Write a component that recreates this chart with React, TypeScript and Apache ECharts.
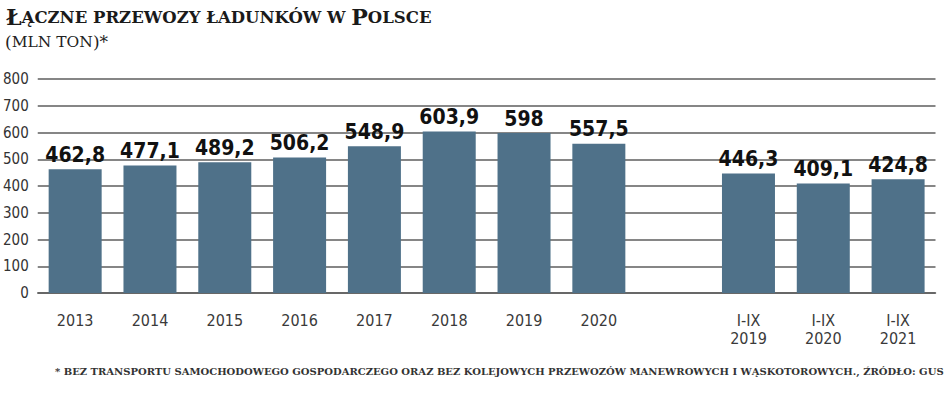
import React, { useEffect, useRef } from "react";
import * as echarts from "echarts";

const categories = ["2013", "2014", "2015", "2016", "2017", "2018", "2019", "2020", "", "I-IX\n2019", "I-IX\n2020", "I-IX\n2021"];
const values: (number | null)[] = [462.8, 477.1, 489.2, 506.2, 548.9, 603.9, 598, 557.5, null, 446.3, 409.1, 424.8];
const yTicks = { min: 0, max: 800, interval: 100 };

const titleBig1 = "Ł";
const titleSmall1 = "ĄCZNE PRZEWOZY ŁADUNKÓW W ";
const titleBig2 = "P";
const titleSmall2 = "OLSCE";
const subtitle = "MLN TON";
const footnote = "* BEZ TRANSPORTU SAMOCHODOWEGO GOSPODARCZEGO ORAZ BEZ KOLEJOWYCH PRZEWOZÓW MANEWROWYCH I WĄSKOTOROWYCH., ŹRÓDŁO: GUS";

const condensed = "'DejaVu Sans Condensed', 'DejaVu Sans', sans-serif";
const serif = "'DejaVu Serif', 'Liberation Serif', serif";

export default function App() {
  const ref = useRef<HTMLDivElement>(null);
  useEffect(() => {
    if (!ref.current) return;
    const chart = echarts.init(ref.current, null, { renderer: "svg" });
    chart.setOption({
      animation: false,
      backgroundColor: "#ffffff",
      title: [
        {
          left: 6,
          top: 7,
          padding: 0,
          text: `{b|${titleBig1}}{s|${titleSmall1}}{b|${titleBig2}}{s|${titleSmall2}}`,
          textStyle: {
            fontWeight: "bold",
            lineHeight: 20,
            rich: {
              b: { fontFamily: serif, fontWeight: "bold", fontSize: 22, lineHeight: 20, color: "#1a1a1a" },
              s: { fontFamily: serif, fontWeight: "bold", fontSize: 16.5, lineHeight: 20, color: "#1a1a1a" },
            },
          },
        },
        {
          left: 5,
          top: 34,
          padding: 0,
          text: `{p|(}{s|${subtitle}}{p|)*}`,
          textStyle: {
            fontWeight: "normal",
            lineHeight: 16,
            rich: {
              p: { fontFamily: serif, fontWeight: "normal", fontSize: 17, lineHeight: 16, color: "#222" },
              s: { fontFamily: serif, fontWeight: "normal", fontSize: 15.5, lineHeight: 16, color: "#222" },
            },
          },
        },
        {
          left: 55,
          top: 366,
          padding: 0,
          text: footnote,
          textStyle: { fontFamily: serif, fontWeight: "bold", fontSize: 10, color: "#333" },
        },
      ],
      grid: { left: 36, right: 12.5, top: 79, bottom: 101, containLabel: false },
      xAxis: {
        type: "category",
        data: categories,
        axisTick: { show: false },
        axisLine: { show: true, lineStyle: { color: "#5e5e5e", width: 1.5 } },
        axisLabel: {
          interval: 0,
          margin: 18,
          fontFamily: condensed,
          fontSize: 16,
          lineHeight: 18,
          color: "#3a3a3a",
        },
      },
      yAxis: {
        type: "value",
        min: yTicks.min,
        max: yTicks.max,
        interval: yTicks.interval,
        axisLine: { show: false },
        axisTick: { show: false },
        axisLabel: { margin: 9, fontFamily: condensed, fontSize: 15, color: "#333" },
        splitLine: { show: true, lineStyle: { color: "#5e5e5e", width: 1.5 } },
      },
      series: [
        {
          type: "bar",
          data: values,
          barWidth: 53,
          itemStyle: { color: "#4f7189" },
          label: {
            show: true,
            position: "top",
            distance: 4,
            fontFamily: condensed,
            fontWeight: "bold",
            fontSize: 21,
            color: "#111",
            formatter: (p: any) => String(p.value).replace(".", ","),
          },
        },
      ],
    });
    return () => chart.dispose();
  }, []);
  return <div ref={ref} style={{ width: 948, height: 394, position: "absolute", left: 0, top: 0 }} />;
}
